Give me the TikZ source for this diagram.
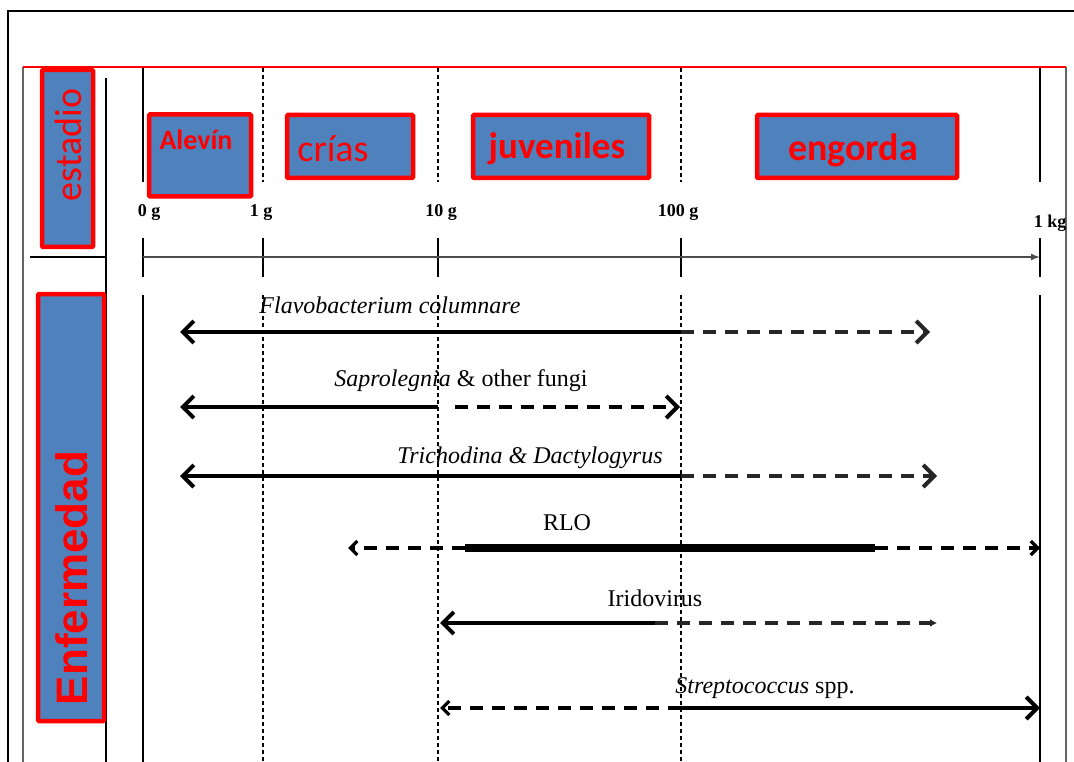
\documentclass[tikz,border=0pt]{standalone}
\usepackage{fontspec}
\setmainfont{Liberation Serif}
\newfontfamily\carl{Carlito}
\newfontfamily\arl{Liberation Sans}
\usetikzlibrary{arrows.meta}
\definecolor{boxblue}{HTML}{4F81BD}
\definecolor{boxred}{HTML}{FF0000}
\definecolor{framegray}{HTML}{666666}
\tikzset{
  stagebox/.style={draw=boxred, fill=boxblue, line width=4.5pt, inner sep=0pt, rounded corners=1pt},
  stagetext/.style={text=boxred, inner sep=0pt, font=\carl\fontsize{38}{40}\selectfont},
  solidv/.style={line width=1.4pt, black},
  dashv/.style={line width=1.2pt, black, dash pattern=on 4pt off 3pt},
  barb/.tip={Straight Barb[length=11pt,width=22pt,line width=4pt]},
  sol/.style={line width=3.5pt, black},
  dsh/.style={line width=3.2pt, black!85, dash pattern=on 13pt off 9pt},
  lbl/.style={inner sep=0pt, font=\fontsize{24}{26}\selectfont},
  axl/.style={inner sep=0pt, font=\bfseries\fontsize{18}{20}\selectfont},
}
\begin{document}
\begin{tikzpicture}[x=1pt,y=-1pt]
\useasboundingbox (0,0) rectangle (1074,762);
% frames
\draw[line width=2pt] (8,762) -- (8,11) -- (1074,11);
\draw[framegray, line width=2pt] (23,762) -- (23,67);
\draw[framegray, line width=1.2pt] (1066,67) -- (1066,762);
\draw[boxred, line width=2pt] (23,67) -- (1066,67);
\draw[solidv] (106,78) -- (106,762);
\draw[solidv] (30,257) -- (106,257);
% axis verticals
\foreach \x in {143,1040} {
  \draw[solidv] (\x,68) -- (\x,182);
  \draw[solidv] (\x,238) -- (\x,277);
  \draw[solidv] (\x,295) -- (\x,762);
}
\foreach \x in {263,438,681} {
  \draw[dashv] (\x,68) -- (\x,182);
  \draw[solidv] (\x,238) -- (\x,277);
  \draw[dashv] (\x,295) -- (\x,762);
}
% axis
\coordinate (ax0) at (143,257);
\coordinate (ax1) at (1040,257);
\draw[line width=1.5pt, black!70, -{Latex[length=9pt,width=7pt]}] (ax0) -- (ax1);
\node[axl] (l0) at (149,213) {0 g};
\node[axl] (l1) at (261,213) {1 g};
\node[axl] (l10) at (441,213) {10 g};
\node[axl] (l100) at (678,213) {100 g};
\node[axl] (l1k) at (1050,223) {1 kg};
% category boxes
\node[stagebox, minimum width=51pt, minimum height=177pt] (estadio) at (67.5,158.5) {};
\node[stagetext, rotate=90] (estadioT) at (68,145) {estadio};
\node[stagebox, minimum width=66pt, minimum height=427pt] (enf) at (71,507.5) {};
\node[stagetext, rotate=90, font=\arl\bfseries\fontsize{44}{46}\selectfont] (enfT) at (72,578) {Enfermedad};
% stage boxes
\node[stagebox, minimum width=102pt, minimum height=82pt] (alevin) at (200,155.5) {};
\node[stagetext, font=\carl\bfseries\fontsize{28}{30}\selectfont] (alevinT) at (196,140) {Alevín};
\node[stagebox, minimum width=126pt, minimum height=63pt] (crias) at (350,146.5) {};
\node[stagetext] (criasT) at (333,149) {crías};
\node[stagebox, minimum width=176pt, minimum height=63pt] (juv) at (561,146.5) {};
\node[stagetext, font=\carl\bfseries\fontsize{37}{39}\selectfont] (juvT) at (557,149) {juveniles};
\node[stagebox, minimum width=200pt, minimum height=63pt] (eng) at (857,146.5) {};
\node[stagetext, font=\carl\bfseries\fontsize{38}{40}\selectfont] (engT) at (853,150) {engorda};
% Flavobacterium
\coordinate (fa) at (180,332); \coordinate (fb) at (681,332); \coordinate (fc) at (930,332);
\draw[sol, -barb] (fb) -- (fa);
\draw[dsh, -barb] (fb) -- (fc);
\node[lbl] (fl) at (390,305) {\textit{Flavobacterium columnare}};
% Saprolegnia
\coordinate (sa) at (180,407); \coordinate (sb) at (438,407); \coordinate (sc) at (455,407); \coordinate (sd) at (680,407);
\draw[sol, -barb] (sb) -- (sa);
\draw[dsh, line width=4.5pt, black, -barb] (sc) -- (sd);
\node[lbl] (sl) at (461,381) {\textit{Saprolegnia} \& other fungi};
% Trichodina
\coordinate (ta) at (180,476); \coordinate (tb) at (681,476); \coordinate (tc) at (937,476);
\draw[sol, -barb] (tb) -- (ta);
\draw[dsh, -barb] (tb) -- (tc);
\node[lbl] (tl) at (530,458) {\textit{Trichodina \& Dactylogyrus}};
% RLO
\coordinate (ra) at (348,548); \coordinate (rb) at (465,548); \coordinate (rc) at (875,548); \coordinate (rd) at (1040,548);
\draw[dsh, black, -{Straight Barb[length=7pt,width=14pt]}] (rb) -- (ra);
\draw[line width=8pt, black] (rb) -- (rc);
\draw[dsh, black, -{Straight Barb[length=7pt,width=14pt]}] (rc) -- (rd);
\node[lbl] (rl) at (567,523) {RLO};
% Iridovirus
\coordinate (ia) at (440,623); \coordinate (ib) at (655,623); \coordinate (ic) at (937,623);
\draw[sol, -barb] (ib) -- (ia);
\draw[dsh, -{Latex[length=7pt,width=8pt]}] (ib) -- (ic);
\node[lbl] (il) at (655,598) {Iridovirus};
% Streptococcus
\coordinate (pa) at (440,708); \coordinate (pb) at (681,708); \coordinate (pc) at (1040,708);
\draw[dsh, black, -{Straight Barb[length=7pt,width=14pt]}] (pb) -- (pa);
\draw[sol, -barb] (pb) -- (pc);
\node[lbl] (pl) at (765,688) {\textit{Streptococcus} spp.};
\end{tikzpicture}
\end{document}
